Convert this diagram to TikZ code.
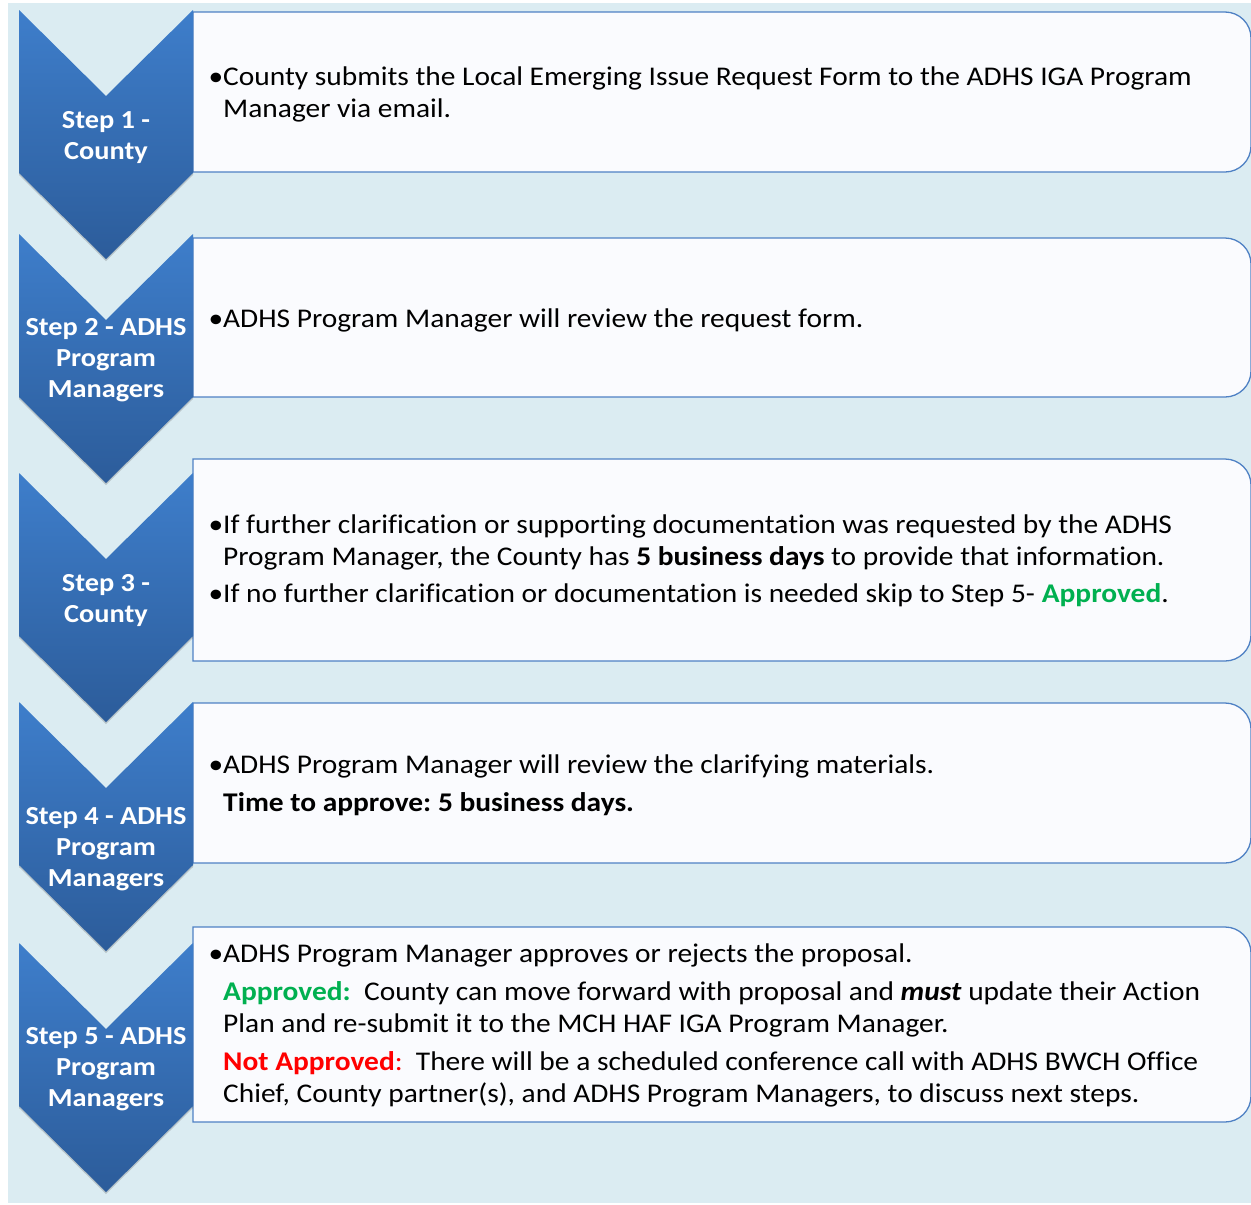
\documentclass[tikz,border=0pt]{standalone}
\usepackage{fontspec}
\setmainfont{Carlito}[FakeStretch=1.09, Ligatures=NoCommon]
\usetikzlibrary{shadows}
\frenchspacing

\definecolor{panelbg}{RGB}{219,236,242}
\definecolor{chevtop}{RGB}{62,126,203}
\definecolor{chevbot}{RGB}{44,92,154}
\definecolor{boxline}{RGB}{79,129,196}
\definecolor{boxfill}{RGB}{250,251,254}
\definecolor{okgreen}{RGB}{0,176,80}
\definecolor{nored}{RGB}{255,0,0}

\tikzset{
  chevron/.style={top color=chevtop, bottom color=chevbot, draw=none,
    drop shadow={shadow xshift=0pt, shadow yshift=-2pt, opacity=0.25, fill=black!70}},
  stepbox/.style={draw=boxline, line width=1.3pt, fill=boxfill},
  steptext/.style={anchor=base, inner sep=0pt, text=white,
    font=\bfseries\fontsize{26}{31}\selectfont},
  bodytext/.style={anchor=base west, inner sep=0pt, text=black,
    font=\fontsize{27}{32}\selectfont}
}

% bullet hung in the left margin of a panel text
\newcommand\bul{\leavevmode\llap{•}}

% chevron: top edge at y=#1 (measured downward)
\newcommand\chevronat[1]{%
  \path[chevron] (19,-#1) -- (106,-#1-86) -- (193,-#1) -- (193,-#1-163)
    -- (106,-#1-249) -- (19,-#1-163) -- cycle;}
% text panel: top #1, bottom #2, square left corners, rounded right corners
\newcommand\panelat[2]{%
  \draw[stepbox] (193,-#1) -- (1225,-#1) arc[start angle=90, end angle=0, radius=26pt]
    -- (1251,-#2+26) arc[start angle=0, end angle=-90, radius=26pt]
    -- (193,-#2) -- cycle;}

\begin{document}
\begin{tikzpicture}[x=1pt, y=1pt]
\useasboundingbox (0,0) rectangle (1251,-1205);
\fill[panelbg] (8,-3) rectangle (1251,-1203);

% text panels
\panelat{12}{172}
\panelat{238}{397}
\panelat{459}{661}
\panelat{703}{863}
\panelat{927}{1122}

% chevrons
\chevronat{10}
\chevronat{234}
\chevronat{473}
\chevronat{702}
\chevronat{943}

% step labels
\node[steptext] (s1) at (106,-128) {\parbox[t]{190pt}{\centering Step 1 -\\County}};
\node[steptext] (s2) at (106,-335.5) {\parbox[t]{190pt}{\centering Step 2 - ADHS\\Program\\Managers}};
\node[steptext] (s3) at (106,-591.5) {\parbox[t]{190pt}{\centering Step 3 -\\County}};
\node[steptext] (s4) at (106,-824.5) {\parbox[t]{190pt}{\centering Step 4 - ADHS\\Program\\Managers}};
\node[steptext] (s5) at (106,-1044.5) {\parbox[t]{190pt}{\centering Step 5 - ADHS\\Program\\Managers}};

% panel texts
\node[bodytext] (t1) at (223,-85) {\parbox[t]{1020pt}{\raggedright
  \bul County submits the Local Emerging Issue Request Form to the ADHS IGA Program\\
  Manager via email.}};
\node[bodytext] (t2) at (223,-327) {\parbox[t]{1020pt}{\raggedright
  \bul ADHS Program Manager will review the request form.}};
\node[bodytext] (t3) at (223,-533) {\parbox[t]{1020pt}{\raggedright
  \bul If further clarification or supporting documentation was requested by the ADHS\\
  Program Manager, the County has \textbf{5 business days} to provide that information.\\[5pt]
  \bul If no further clarification or documentation is needed skip to Step 5- \textcolor{okgreen}{\textbf{Approved}}.}};
\node[bodytext] (t4) at (223,-773) {\parbox[t]{1020pt}{\raggedright
  \bul ADHS Program Manager will review the clarifying materials.\\[6pt]
  \textbf{Time to approve: 5 business days.}}};
\node[bodytext] (t5) at (223,-962) {\parbox[t]{1020pt}{\raggedright
  \bul ADHS Program Manager approves or rejects the proposal.\\[6pt]
  \textcolor{okgreen}{\textbf{Approved:}}\ \ County can move forward with proposal and \textbf{\textit{must}} update their Action\\
  Plan and re-submit it to the MCH HAF IGA Program Manager.\\[6pt]
  \textcolor{nored}{\textbf{Not Approved}:}\ \ There will be a scheduled conference call with ADHS BWCH Office\\
  Chief, County partner(s), and ADHS Program Managers, to discuss next steps.}};
\end{tikzpicture}
\end{document}
